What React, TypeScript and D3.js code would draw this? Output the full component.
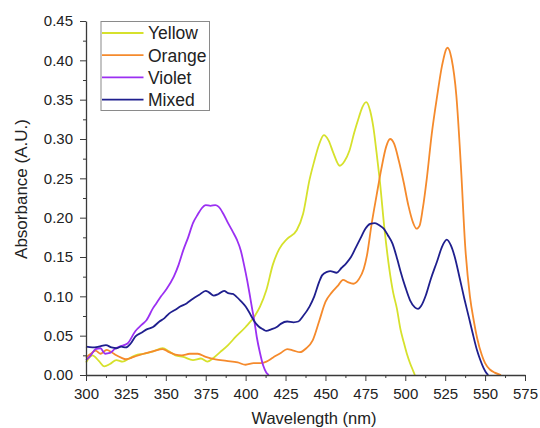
import React, { useEffect, useRef } from "react";
import {
  select,
  scaleLinear,
  axisLeft,
  axisBottom,
  line,
  curveMonotoneX,
  format,
  range,
} from "d3";

// wavelength (nm) / absorbance (A.U.)
const yellowNm = [300, 304, 308, 311.5, 315, 319, 323, 327, 331, 336, 342, 348, 352, 356, 361, 367, 372, 376, 380, 384, 389, 394, 400, 406, 409, 413, 417, 421, 426, 432, 436, 440, 443, 446, 449, 452, 455, 459, 462, 465, 468, 471, 473, 475.5, 478, 480, 482, 484, 487, 490, 492.5, 494.7, 497, 499, 501, 503, 505, 506];
const yellowAbs = [0.016, 0.025, 0.018, 0.011, 0.014, 0.019, 0.017, 0.021, 0.025, 0.027, 0.03, 0.034, 0.03, 0.025, 0.023, 0.019, 0.021, 0.017, 0.022, 0.029, 0.038, 0.049, 0.061, 0.076, 0.087, 0.108, 0.14, 0.16, 0.173, 0.184, 0.205, 0.248, 0.272, 0.293, 0.305, 0.298, 0.282, 0.266, 0.272, 0.285, 0.308, 0.328, 0.34, 0.347, 0.336, 0.315, 0.283, 0.248, 0.185, 0.135, 0.104, 0.085, 0.058, 0.042, 0.027, 0.015, 0.005, 0];

const orangeNm = [300, 303, 306, 309, 313, 316, 319, 322, 325, 330, 336, 342, 348, 352, 356, 360, 365, 370, 375, 381, 388, 395, 400, 405, 409, 413, 417, 422, 426, 430, 434, 438, 442, 446, 450, 454, 458, 461, 464, 467.5, 471, 474, 476, 479, 482, 485, 488, 490.5, 493, 496, 499, 502, 505, 507, 509, 511, 513.5, 516.5, 520, 523, 526.5, 529, 532, 535, 537.5, 540.5, 543, 545, 548, 550, 553, 556, 560];
const orangeAbs = [0.022, 0.027, 0.031, 0.027, 0.032, 0.029, 0.025, 0.022, 0.02, 0.023, 0.027, 0.03, 0.033, 0.029, 0.026, 0.025, 0.027, 0.027, 0.023, 0.02, 0.018, 0.016, 0.013, 0.015, 0.015, 0.017, 0.022, 0.028, 0.033, 0.031, 0.029, 0.034, 0.044, 0.068, 0.093, 0.105, 0.114, 0.121, 0.118, 0.116, 0.122, 0.135, 0.152, 0.193, 0.228, 0.262, 0.29, 0.3, 0.294, 0.272, 0.245, 0.215, 0.193, 0.186, 0.19, 0.212, 0.25, 0.305, 0.355, 0.393, 0.416, 0.402, 0.355, 0.26, 0.165, 0.1, 0.068, 0.047, 0.025, 0.015, 0.007, 0.003, 0];

const violetNm = [300, 303, 306, 309, 312, 315, 318, 321, 326, 331, 335, 338, 342, 344, 347, 350, 355, 358, 361, 364, 367, 370, 372.5, 375, 378, 381, 383, 386, 389, 392, 394.5, 397, 399, 401, 402.5, 404, 405.5, 407, 409, 411, 413, 414.5];
const violetAbs = [0.019, 0.025, 0.033, 0.034, 0.027, 0.028, 0.033, 0.036, 0.04, 0.056, 0.064, 0.07, 0.085, 0.091, 0.1, 0.108, 0.125, 0.14, 0.159, 0.175, 0.193, 0.204, 0.212, 0.216, 0.215, 0.216, 0.214, 0.205, 0.193, 0.182, 0.172, 0.158, 0.14, 0.12, 0.103, 0.085, 0.068, 0.048, 0.028, 0.012, 0.003, 0];

const mixedNm = [300, 304, 308, 312.5, 316, 319, 322, 325, 328, 331, 335, 338, 342, 346, 349, 352, 356, 359, 363, 367, 371, 375, 377, 380, 383, 386.5, 389, 392, 394, 397, 400, 403, 405.5, 408, 411, 413, 416, 419.5, 422, 426, 430, 433, 436, 440, 443, 446, 448, 451, 453, 457, 460, 463, 466, 469, 472, 475, 478, 481, 484, 486.5, 489, 492, 495, 497, 500, 503, 506, 508, 510, 513, 516, 520, 523, 526, 528.5, 531, 534, 537, 540, 542, 545, 547, 549, 551, 552];
const mixedAbs = [0.036, 0.035, 0.036, 0.038, 0.035, 0.034, 0.036, 0.035, 0.04, 0.049, 0.054, 0.058, 0.061, 0.068, 0.072, 0.078, 0.083, 0.087, 0.091, 0.097, 0.102, 0.107, 0.105, 0.101, 0.103, 0.107, 0.104, 0.103, 0.1, 0.094, 0.087, 0.077, 0.068, 0.062, 0.058, 0.056, 0.058, 0.061, 0.065, 0.068, 0.067, 0.068, 0.075, 0.087, 0.1, 0.118, 0.127, 0.131, 0.132, 0.13, 0.136, 0.142, 0.15, 0.162, 0.174, 0.186, 0.192, 0.193, 0.19, 0.186, 0.178, 0.167, 0.147, 0.132, 0.112, 0.095, 0.086, 0.084, 0.088, 0.102, 0.122, 0.145, 0.163, 0.172, 0.165, 0.15, 0.124, 0.097, 0.072, 0.055, 0.031, 0.019, 0.009, 0.002, 0];

const seriesNames = ["Yellow", "Orange", "Violet", "Mixed"];
const seriesColors = ["#d6e12c", "#f58a2c", "#9b30f2", "#1f1f8e"];

const xTicks = [300, 325, 350, 375, 400, 425, 450, 475, 500, 525, 550, 575];
const yTicks = [0, 0.05, 0.1, 0.15, 0.2, 0.25, 0.3, 0.35, 0.4, 0.45];

const FONT = "Liberation Sans, Arial, sans-serif";

const SpectraChart = ({ width = 540, height = 428 }) => {
  const svgRef = useRef(null);

  useEffect(() => {
    const svg = select(svgRef.current);
    svg.selectAll("*").remove();

    const left = 86;
    const right = 525;
    const top = 21;
    const bottom = 375;

    const x = scaleLinear().domain([300, 575]).range([left, right]);
    const y = scaleLinear().domain([0, 0.45]).range([bottom, top]);

    const series = [
      [yellowNm, yellowAbs],
      [orangeNm, orangeAbs],
      [violetNm, violetAbs],
      [mixedNm, mixedAbs],
    ].map(([nm, abs], i) => ({
      name: seriesNames[i],
      color: seriesColors[i],
      points: nm.map((w, j) => [w, abs[j]]),
    }));

    const path = line()
      .x((d) => x(d[0]))
      .y((d) => y(d[1]))
      .curve(curveMonotoneX);

    svg
      .append("g")
      .selectAll("path")
      .data(series)
      .enter()
      .append("path")
      .attr("d", (d) => path(d.points))
      .attr("fill", "none")
      .attr("stroke", (d) => d.color)
      .attr("stroke-width", 1.8)
      .attr("stroke-linejoin", "round");

    const axisColor = "#3a3a3a";

    // minor ticks first, then the major axes on top
    const xMinor = axisBottom(x)
      .tickValues(range(312.5, 575, 25))
      .tickSize(3)
      .tickFormat(() => "");
    svg
      .append("g")
      .attr("transform", `translate(0,${bottom})`)
      .call(xMinor)
      .call((g) => g.select(".domain").remove())
      .call((g) => g.selectAll("line").attr("stroke", axisColor));

    const yMinor = axisLeft(y)
      .tickValues(range(0.025, 0.45, 0.05))
      .tickSize(3)
      .tickFormat(() => "");
    svg
      .append("g")
      .attr("transform", `translate(${left},0)`)
      .call(yMinor)
      .call((g) => g.select(".domain").remove())
      .call((g) => g.selectAll("line").attr("stroke", axisColor));

    const xAxis = axisBottom(x)
      .tickValues(xTicks)
      .tickSize(6)
      .tickSizeOuter(0)
      .tickPadding(7);
    svg
      .append("g")
      .attr("transform", `translate(0,${bottom})`)
      .call(xAxis)
      .call((g) => g.select(".domain").attr("stroke", axisColor).attr("stroke-width", 1.3))
      .call((g) => g.selectAll("line").attr("stroke", axisColor))
      .call((g) =>
        g
          .selectAll("text")
          .attr("fill", "#222")
          .style("font-family", FONT)
          .style("font-size", "15px"),
      );

    const yAxis = axisLeft(y)
      .tickValues(yTicks)
      .tickSize(6)
      .tickSizeOuter(0)
      .tickPadding(7)
      .tickFormat(format(".2f"));
    svg
      .append("g")
      .attr("transform", `translate(${left},0)`)
      .call(yAxis)
      .call((g) => g.select(".domain").attr("stroke", axisColor).attr("stroke-width", 1.3))
      .call((g) => g.selectAll("line").attr("stroke", axisColor))
      .call((g) =>
        g
          .selectAll("text")
          .attr("fill", "#222")
          .style("font-family", FONT)
          .style("font-size", "15px"),
      );

    svg
      .append("text")
      .text("Wavelength (nm)")
      .attr("x", 314)
      .attr("y", 424)
      .attr("text-anchor", "middle")
      .attr("fill", "#222")
      .style("font-family", FONT)
      .style("font-size", "16.5px");

    svg
      .append("text")
      .text("Absorbance (A.U.)")
      .attr("transform", "translate(27,189) rotate(-90)")
      .attr("text-anchor", "middle")
      .attr("fill", "#222")
      .style("font-family", FONT)
      .style("font-size", "17px");

    // legend
    const legend = svg.append("g");
    legend
      .append("rect")
      .attr("x", 101)
      .attr("y", 21.5)
      .attr("width", 108.5)
      .attr("height", 89)
      .attr("fill", "#fff")
      .attr("stroke", "#8a8a8a")
      .attr("stroke-width", 1);

    const rows = legend
      .selectAll(".row")
      .data(series)
      .enter()
      .append("g")
      .attr("class", "row")
      .attr("transform", (_, i) => `translate(0,${33 + i * 22.2})`);

    rows
      .append("line")
      .attr("x1", 102)
      .attr("x2", 143.5)
      .attr("stroke", (d) => d.color)
      .attr("stroke-width", 1.8);

    rows
      .append("text")
      .text((d) => d.name)
      .attr("x", 148)
      .attr("dy", "0.36em")
      .attr("fill", "#222")
      .style("font-family", FONT)
      .style("font-size", "17.5px");
  }, [width, height]);

  return (
    <svg
      ref={svgRef}
      width={width}
      height={height}
      style={{ position: "absolute", left: 0, top: 0, background: "#fff" }}
    />
  );
};

export default function App() {
  return <SpectraChart />;
}
